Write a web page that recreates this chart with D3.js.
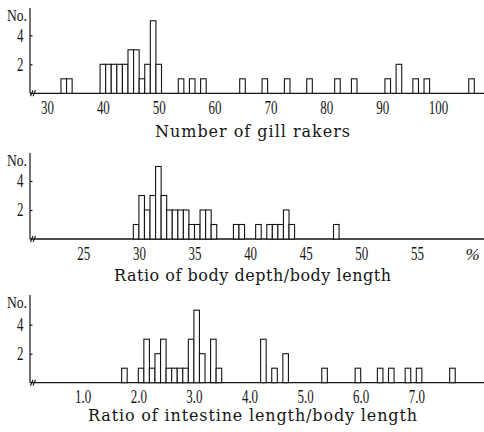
<!DOCTYPE html>
<html>
<head>
<meta charset="utf-8">
<script src="https://cdn.jsdelivr.net/npm/d3@7"></script>
<style>
  html, body { margin: 0; padding: 0; background: #fff; }
  svg { display: block; }
</style>
</head>
<body>
<div id="chart"></div>
<script>
// gill rakers: value -> count (bar width 1)
const gillValues = [33, 34, 40, 41, 42, 43, 44, 45, 46, 47, 48, 49, 50, 54, 56, 58, 65, 69, 73, 77, 82, 85, 91, 93, 96, 98, 106]
const gillCounts = [1, 1, 2, 2, 2, 2, 2, 3, 3, 1, 2, 5, 2, 1, 1, 1, 1, 1, 1, 1, 1, 1, 1, 2, 1, 1, 1]
const gillTicks = [30, 40, 50, 60, 70, 80, 90, 100]

// body depth / body length (%): bin start -> count (bin width 0.5)
const depthStarts = [29.5, 30, 30.5, 31, 31.5, 32, 32.5, 33, 33.5, 34, 34.5, 35, 35.5, 36, 36.5, 38.5, 39, 40.5, 41.5, 42, 42.5, 43, 43.5, 47.5]
const depthCounts = [1, 3, 2, 3, 5, 3, 2, 2, 2, 2, 1, 1, 2, 2, 1, 1, 1, 1, 1, 1, 1, 2, 1, 1]
const depthTicks = [25, 30, 35, 40, 45, 50, 55]

// intestine length / body length: bin start -> count (bin width 0.1)
const intStarts = [1.7, 2.0, 2.1, 2.2, 2.3, 2.4, 2.5, 2.6, 2.7, 2.8, 2.9, 3.0, 3.1, 3.3, 3.4, 4.2, 4.4, 4.6, 5.3, 5.9, 6.3, 6.5, 6.8, 7.0, 7.6]
const intCounts = [1, 1, 3, 1, 2, 3, 1, 1, 1, 1, 3, 5, 2, 3, 1, 3, 1, 2, 1, 1, 1, 1, 1, 1, 1]
const intTicks = [1.0, 2.0, 3.0, 4.0, 5.0, 6.0, 7.0]

const yTicks = [2, 4]
const titles = ['Number of gill rakers', 'Ratio of body depth/body length', 'Ratio of intestine length/body length']

const W = 484, H = 432
const FONT = '"Liberation Serif", "Times New Roman", serif'
const TITLE_FONT = '"DejaVu Serif", "Liberation Serif", serif'
const INK = '#151515'

const svg = d3.select('#chart').append('svg')
    .attr('width', W).attr('height', H)
    .attr('viewBox', `0 0 ${W} ${H}`)

const panels = [
    {
        bins: gillValues.map((v, i) => ({ x0: v - 0.5, x1: v + 0.5, n: gillCounts[i] })),
        ticks: gillTicks, fmt: d3.format('d'), unit: null,
        domain: [30, 100], range: [47, 438],
        base: 93.3, top: 8, title: titles[0], titleY: 137, titleW: 195
    },
    {
        bins: depthStarts.map((v, i) => ({ x0: v, x1: v + 0.5, n: depthCounts[i] })),
        ticks: depthTicks, fmt: d3.format('d'), unit: '%',
        domain: [25, 60], range: [83.3, 472.5],
        base: 239, top: 153, title: titles[1], titleY: 281, titleW: 277
    },
    {
        bins: intStarts.map((v, i) => ({ x0: v, x1: +(v + 0.1).toFixed(1), n: intCounts[i] })),
        ticks: intTicks, fmt: d3.format('.1f'), unit: null,
        domain: [1, 7], range: [82.7, 416.3],
        base: 382.7, top: 295, title: titles[2], titleY: 421, titleW: 329
    }
]

panels.forEach(p => {
    const x = d3.scaleLinear(p.domain, p.range)
    const y = d3.scaleLinear([0, 5], [p.base, p.base - 72.5])
    const g = svg.append('g')

    // baseline
    g.append('line')
        .attr('x1', 30).attr('x2', W)
        .attr('y1', p.base).attr('y2', p.base)
        .attr('stroke', INK).attr('stroke-width', 1.3)

    // bars
    g.append('g').selectAll('rect')
        .data(p.bins)
        .join('rect')
        .attr('x', d => x(d.x0))
        .attr('width', d => x(d.x1) - x(d.x0))
        .attr('y', d => y(d.n))
        .attr('height', d => p.base - y(d.n))
        .attr('fill', '#fff')
        .attr('stroke', INK)
        .attr('stroke-width', 1.1)

    // x tick labels
    const xAxis = g.append('g')
        .attr('transform', `translate(0,${p.base})`)
        .call(d3.axisBottom(x).tickValues(p.ticks).tickFormat(p.fmt).tickSize(0).tickPadding(8))
    xAxis.select('.domain').remove()
    xAxis.selectAll('text')
        .attr('font-family', FONT).attr('font-size', 18).attr('fill', INK)
        .attr('transform', 'scale(0.72,1)')

    if (p.unit) {
        g.append('text')
            .attr('x', x(60)).attr('y', p.base + 20.5)
            .attr('text-anchor', 'middle')
            .attr('font-family', FONT).attr('font-size', 17).attr('font-style', 'italic')
            .attr('fill', INK)
            .text(p.unit)
    }

    // y axis
    const yAxis = g.append('g')
        .attr('transform', 'translate(30,0)')
        .call(d3.axisLeft(y).tickValues(yTicks).tickFormat(d3.format('d')).tickSize(-2.5).tickSizeOuter(0).tickPadding(9))
    yAxis.select('.domain').remove()
    yAxis.selectAll('.tick line').attr('stroke', INK).attr('stroke-width', 1.2)
    yAxis.selectAll('text')
        .attr('font-family', FONT).attr('font-size', 18).attr('fill', INK)
        .attr('transform', 'scale(0.72,1)')
    g.append('line')
        .attr('x1', 30).attr('x2', 30)
        .attr('y1', p.top).attr('y2', p.base)
        .attr('stroke', INK).attr('stroke-width', 1.2)

    // axis break marks
    g.append('path')
        .attr('d', `M${30.5},${p.base + 3}L${33},${p.base - 3}M${33},${p.base + 3}L${35.5},${p.base - 3}`)
        .attr('stroke', INK).attr('stroke-width', 1.1).attr('fill', 'none')

    // "No." label
    g.append('text')
        .attr('transform', `translate(7,${p.top + 13}) scale(0.8,1)`)
        .attr('font-family', FONT).attr('font-size', 17).attr('fill', INK)
        .text('No.')

    // title
    g.append('text')
        .attr('x', 252.5 - p.titleW / 2).attr('y', p.titleY)
        .attr('textLength', p.titleW).attr('lengthAdjust', 'spacing')
        .attr('font-family', TITLE_FONT).attr('font-size', 16).attr('fill', INK)
        .text(p.title)
})
</script>
</body>
</html>
